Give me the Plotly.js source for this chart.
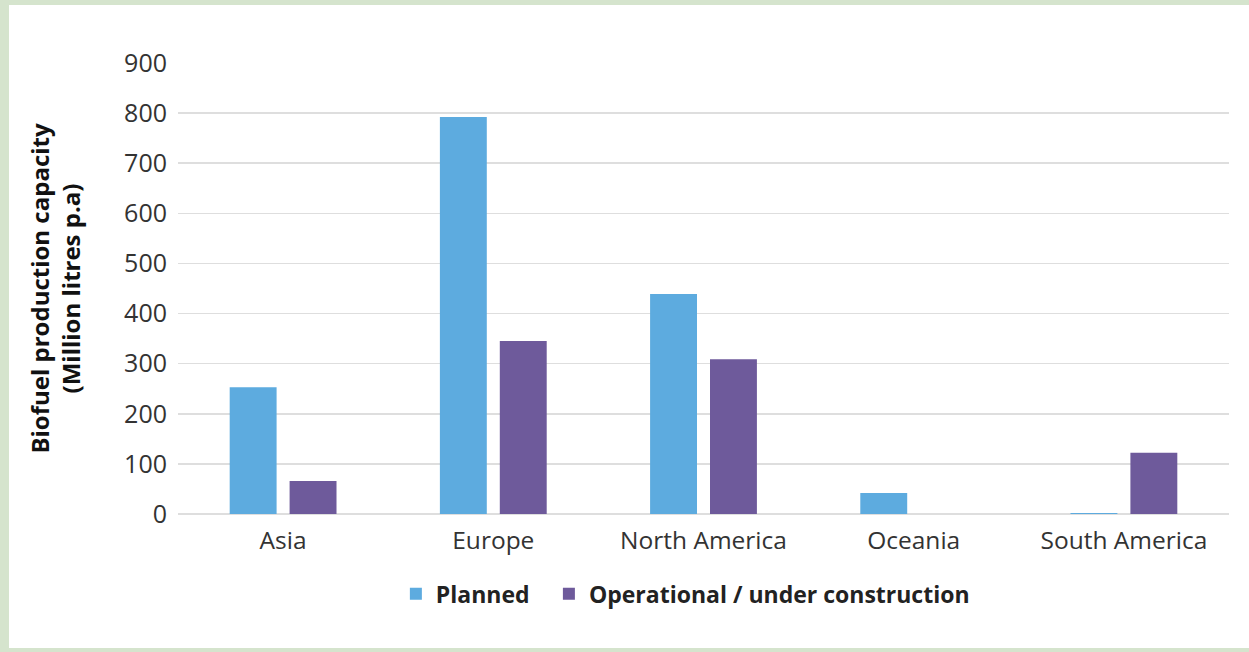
<!DOCTYPE html>
<html>
<head>
<meta charset="utf-8">
<script src="https://cdn.plot.ly/plotly-3.0.1.min.js"></script>
<style>
  html, body { margin: 0; padding: 0; background: #d5e4cd; width: 1249px; height: 652px; overflow: hidden; }
  #chart { position: absolute; left: 9px; top: 5px; width: 1240px; height: 643px; background: #ffffff; }
</style>
</head>
<body>
<div id="chart"></div>
<script>
const regions = ["Asia", "Europe", "North America", "Oceania", "South America"];
const planned = [253, 792, 439, 42, 2];
const operational = [66, 345, 309, 0, 122];
const seriesNames = ["Planned", "Operational / under construction"];
const yTicks = [0, 100, 200, 300, 400, 500, 600, 700, 800, 900];

const traces = [
  { type: "bar", x: regions, y: planned, name: seriesNames[0],
    marker: { color: "#5dabdf" }, hoverinfo: "x+y", legend: "legend" },
  { type: "bar", x: regions, y: operational, name: seriesNames[1],
    marker: { color: "#6e5a9b" }, hoverinfo: "x+y", legend: "legend2" }
];

const legendFont = { family: "Open Sans, sans-serif", size: 23, color: "#222222", weight: "bold" };

const layout = {
  width: 1240, height: 643,
  margin: { l: 169, r: 20, t: 58, b: 134 },
  paper_bgcolor: "#ffffff", plot_bgcolor: "#ffffff",
  font: { family: "Open Sans, sans-serif", color: "#333333" },
  barmode: "group",
  bargap: 0.43,
  bargroupgap: 0.217,
  showlegend: true,
  legend: {
    orientation: "h", x: 0.2073, xanchor: "left", y: -0.177, yanchor: "middle",
    font: legendFont, itemwidth: 30
  },
  legend2: {
    orientation: "h", x: 0.3529, xanchor: "left", y: -0.177, yanchor: "middle",
    font: legendFont, itemwidth: 30
  },
  xaxis: {
    type: "category", tickfont: { size: 24.5, color: "#333333" },
    showgrid: false, zeroline: false, showline: false, ticks: "",
    ticklabelstandoff: 9
  },
  yaxis: {
    range: [0, 900], tickvals: yTicks, ticktext: yTicks.map(String),
    tickfont: { size: 25, color: "#333333" },
    showgrid: true, gridcolor: "#dedede", gridwidth: 1.5,
    zeroline: true, zerolinecolor: "#dedede", zerolinewidth: 1.5,
    showline: false, ticks: "", ticklabelstandoff: 10,
    title: { text: "Biofuel production capacity<br>(Million litres p.a)",
      font: { size: 24, color: "#111111", weight: "bold" }, standoff: 36 }
  }
};

Plotly.newPlot("chart", traces, layout, { displayModeBar: false, staticPlot: true });
</script>
</body>
</html>
